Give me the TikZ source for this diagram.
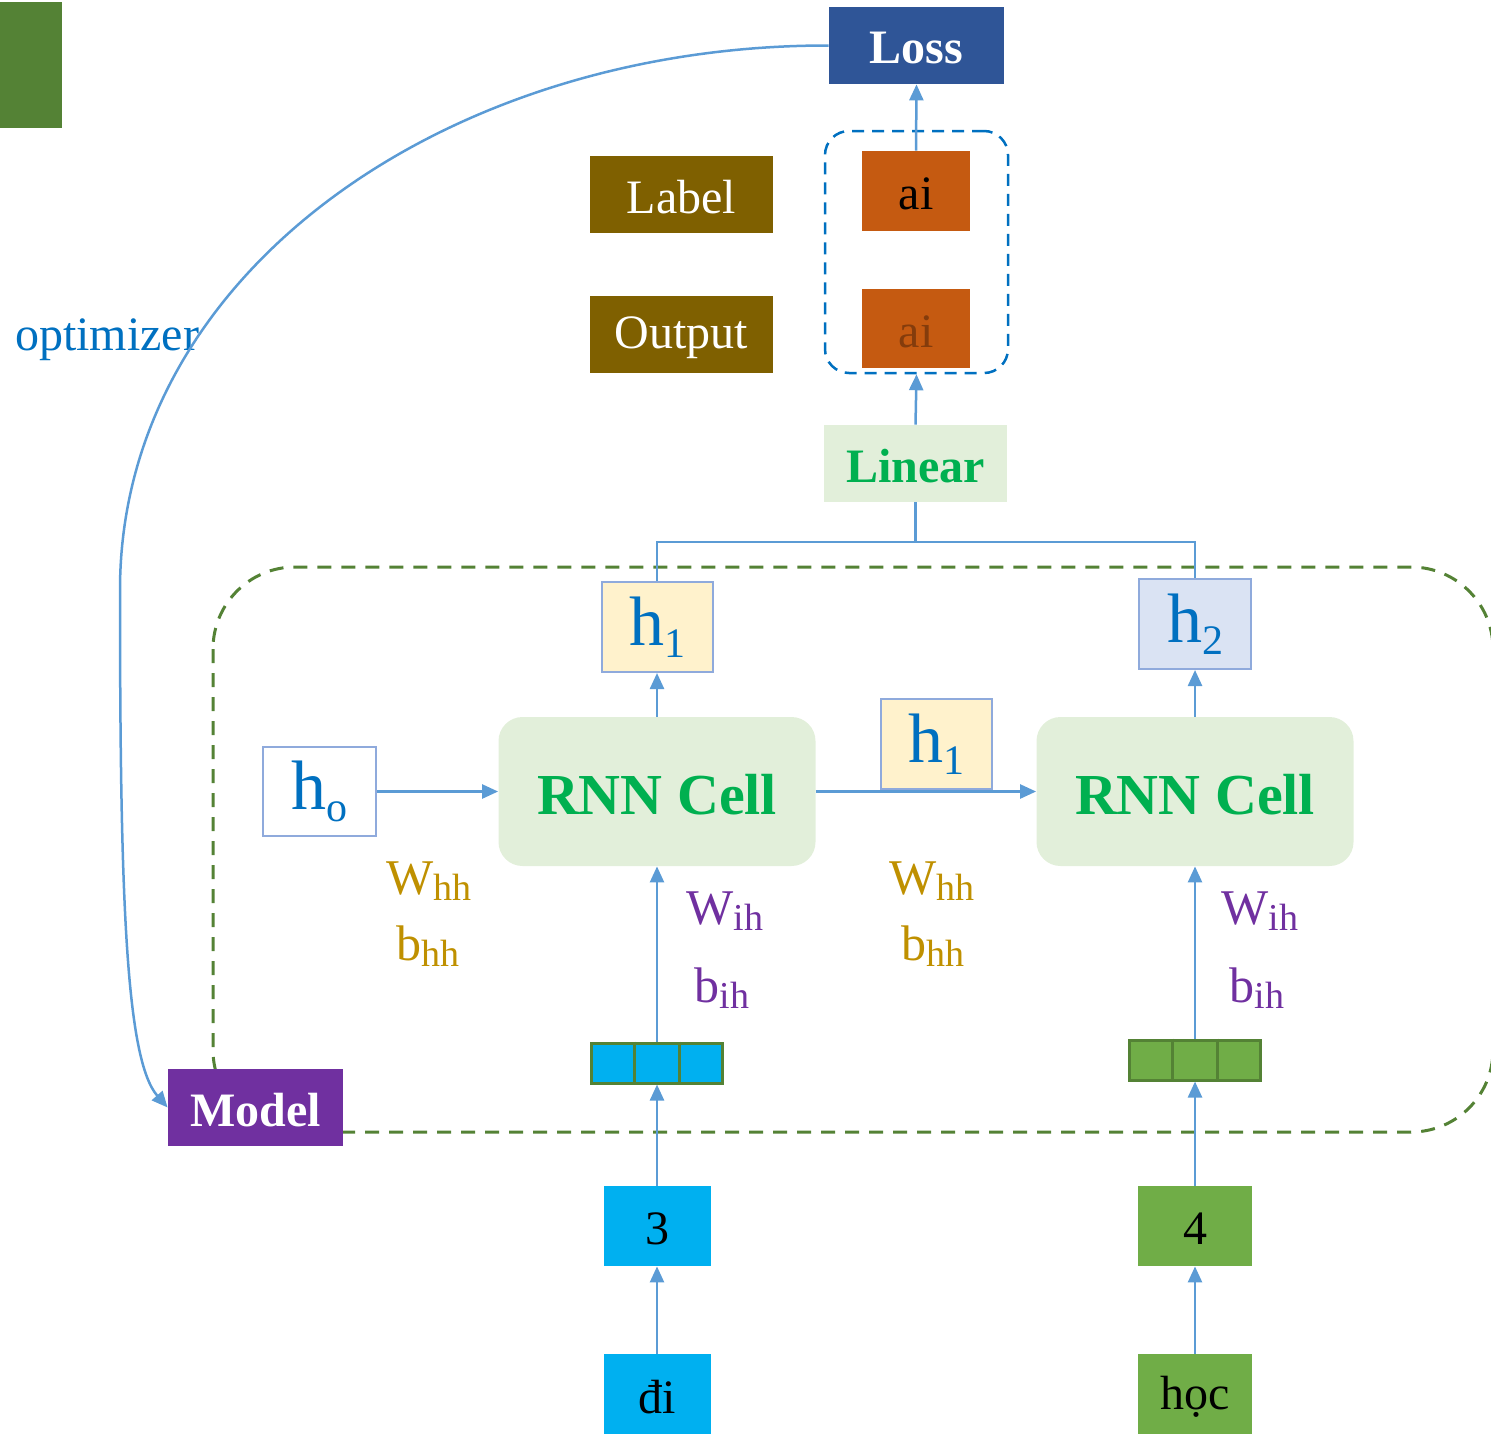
\documentclass[tikz,border=0pt]{standalone}
\usepackage{fontspec}
\setmainfont{Liberation Serif}
\usetikzlibrary{arrows.meta,calc}

\definecolor{lossblue}{HTML}{2F5597}
\definecolor{darkgreen}{HTML}{548235}
\definecolor{labelbrown}{HTML}{7F6000}
\definecolor{aiorange}{HTML}{C55A11}
\definecolor{aidark}{HTML}{843C0C}
\definecolor{palegreen}{HTML}{E2EFDA}
\definecolor{brightgreen}{HTML}{00B050}
\definecolor{arrowblue}{HTML}{5B9BD5}
\definecolor{hborder}{HTML}{8FAADC}
\definecolor{htext}{HTML}{0070C0}
\definecolor{hyellow}{HTML}{FFF2CC}
\definecolor{hblue}{HTML}{DAE3F3}
\definecolor{gold}{HTML}{BF9000}
\definecolor{purple}{HTML}{7030A0}
\definecolor{cyanbox}{HTML}{00B0F0}
\definecolor{leafgreen}{HTML}{70AD47}

% h with a lowered subscript
\newcommand\hvar[1]{{\fontsize{35}{35}\selectfont h\raisebox{-6pt}{\fontsize{21}{21}\selectfont #1}}}
% weight / bias symbol with a lowered subscript
\newcommand\wvar[2]{{\fontsize{25}{25}\selectfont #1\raisebox{-3pt}{\fontsize{19}{19}\selectfont #2}}}
% sets box text slightly lower without changing the box size
\newcommand\dn[1]{\raisebox{-1.5pt}[\height][\depth]{#1}}

\begin{document}
\begin{tikzpicture}[x=0.5pt,y=-0.5pt,
  sz/.style 2 args={minimum width=#1*0.5pt,minimum height=#2*0.5pt},
  fbox/.style={rectangle,inner sep=0pt,fill=#1},
  big/.style={font=\fontsize{24}{24}\selectfont},
  hbox/.style={rectangle,inner sep=0pt,draw=hborder,line width=1pt,fill=#1},
  conn/.style={draw=arrowblue,line width=1.25pt},
  arr/.style={conn,-{Triangle[length=8pt,width=7pt]}},
  cell/.style={rectangle,rounded corners=12pt,fill=palegreen,inner sep=0pt,
    minimum width=158.5pt,minimum height=74.5pt,text=brightgreen,
    font=\fontsize{29}{29}\selectfont\bfseries},
  vec/.style={rectangle,inner sep=0pt,fill=#1,draw=darkgreen,line width=1.5pt,
    minimum width=65.5pt,minimum height=20pt},
  wlab/.style={text=gold,inner sep=0pt},
  ilab/.style={text=purple,inner sep=0pt}]

\useasboundingbox (0,0) rectangle (1491,1440);
\clip (0,0) rectangle (1491,1440);

% corner block
\fill[darkgreen] (0,2) rectangle (62,128);

% model region
\draw[darkgreen,line width=1.5pt,dash pattern=on 7pt off 5pt,rounded corners=41pt]
  (213,567) rectangle (1493,1132);

% output / label group
\node[rectangle,draw=htext,line width=1.25pt,dash pattern=on 6pt off 4pt,
  rounded corners=12pt,sz={183}{242}] (outs) at (916.5,252) {};

\node[fbox=lossblue,sz={175}{77},text=white,font=\fontsize{24}{24}\selectfont\bfseries]
  (loss) at (916.5,45.5) {\dn{Loss}};
\node[fbox=aiorange,sz={108}{80},big] (ai1) at (916,191) {\dn{ai}};
\node[fbox=aiorange,sz={108}{79},big,text=aidark] (ai2) at (916,328.5) {\dn{ai}};
\node[fbox=labelbrown,sz={183}{77},big,text=white] (label) at (681.5,194.5) {\dn{Label}};
\node[fbox=labelbrown,sz={183}{77},big,text=white] (output) at (681.5,334.5) {\dn{Output}};

\node[fbox=palegreen,sz={183}{77},text=brightgreen,font=\fontsize{24}{24}\selectfont\bfseries]
  (linear) at (915.5,463.5) {\dn{Linear}};

% hidden states
\node[hbox=hyellow,sz={111}{90},text=htext] (h1t) at (657,627) {\hvar{1}};
\node[hbox=hblue,sz={112}{90},text=htext] (h2) at (1195,624) {\hvar{2}};
\node[hbox=white,sz={113}{89},text=htext] (h0) at (319.5,791.5) {\hvar{o}};
\node[hbox=hyellow,sz={111}{90},text=htext] (h1m) at (936.5,744) {\hvar{1}};

% recurrent cells
\node[cell] (rnn1) at (657,791.5) {\dn{RNN Cell}};
\node[cell] (rnn2) at (1195,791.5) {\dn{RNN Cell}};

% embeddings
\node[vec=cyanbox] (vecA) at (657,1063) {};
\node[vec=leafgreen] (vecB) at (1195,1060) {};
\foreach \v in {vecA,vecB}{
  \draw[darkgreen,line width=1.5pt] ($(\v.north west)!1/3!(\v.north east)$) -- ($(\v.south west)!1/3!(\v.south east)$);
  \draw[darkgreen,line width=1.5pt] ($(\v.north west)!2/3!(\v.north east)$) -- ($(\v.south west)!2/3!(\v.south east)$);
}

% token ids and words
\node[fbox=cyanbox,sz={107}{80},big] (three) at (657,1226) {\dn{3}};
\node[fbox=leafgreen,sz={114}{80},big] (four) at (1195,1226) {\dn{4}};
\node[fbox=cyanbox,sz={107}{80},big] (di) at (657,1394) {\dn{đi}};
\node[fbox=leafgreen,sz={114}{80},big] (hoc) at (1195,1394) {\dn{học}};

\node[fbox=purple,sz={175}{77},text=white,font=\fontsize{24}{24}\selectfont\bfseries]
  (model) at (255.5,1107.5) {\dn{Model}};

% parameters
\node[wlab] (whh1) at (429,881) {\wvar{W}{hh}};
\node[wlab] (bhh1) at (428,946) {\wvar{b}{hh}};
\node[wlab] (whh2) at (932,881) {\wvar{W}{hh}};
\node[wlab] (bhh2) at (933,946) {\wvar{b}{hh}};
\node[ilab] (wih1) at (725,911) {\wvar{W}{ih}};
\node[ilab] (bih1) at (722,988) {\wvar{b}{ih}};
\node[ilab] (wih2) at (1260,911) {\wvar{W}{ih}};
\node[ilab] (bih2) at (1257,988) {\wvar{b}{ih}};

\node[text=htext,big,inner sep=0pt] (opt) at (107,340) {optimizer};

% connectors
\draw[arr] (ai1.north) -- (loss.south);
\draw[arr] (linear.north) -- (outs.south);
\coordinate (split) at (915.5,542);
\draw[conn] (linear.south) -- (split) -| (h1t.north);
\draw[conn] (split) -| (h2.north);
\draw[arr] (rnn1.north) -- (h1t.south);
\draw[arr] (rnn2.north) -- (h2.south);
\draw[arr] (h0.east) -- (rnn1.west);
\draw[arr] (rnn1.east) -- (rnn2.west);
\draw[arr] (vecA.north) -- (rnn1.south);
\draw[arr] (vecB.north) -- (rnn2.south);
\draw[arr] (three.north) -- (vecA.south);
\draw[arr] (four.north) -- (vecB.south);
\draw[arr] (di.north) -- (three.south);
\draw[arr] (hoc.north) -- (four.south);

\coordinate (bend) at (120,590);
\draw[arr] (loss.west) .. controls (450,45) and (120,270) .. (bend)
  .. controls (120,900) and (126,1060) .. (model.west);
\end{tikzpicture}
\end{document}
